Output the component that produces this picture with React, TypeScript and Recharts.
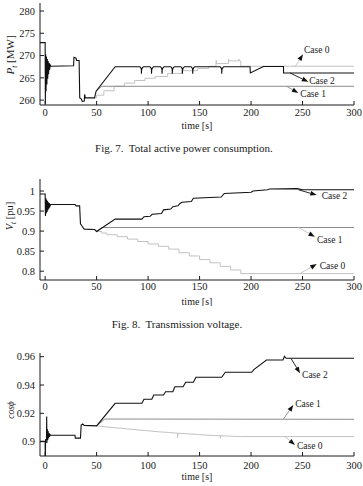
import React from "react";
import { LineChart, Line, XAxis, YAxis, ReferenceLine } from "recharts";

type Pt = [number, number];

const SERIF = "'Liberation Serif', 'DejaVu Serif', serif";
const INK = "#1a1a1a";
const CASE2 = "#111111";
const CASE1 = "#8c8c8c";
const CASE0 = "#c2c2c2";

const timeDomain: [number, number] = [-5, 300];
const timeTicks = [0, 50, 100, 150, 200, 250, 300];

// Fig. 7 - total active power P_t [MW]
const powerTicks = [260, 265, 270, 275, 280];
const powerCase2: Pt[] = [
  [-5, 272.9], [0, 272.9], [0.2, 259.2], [0.5, 270.3], [0.9, 262], [1.3, 269.8], [1.7, 263.5],
  [2.1, 269.2], [2.5, 264.8], [2.9, 268.8], [3.3, 265.8], [3.8, 268.4], [4.3, 266.8], [4.9, 267.9],
  [5.6, 267.6], [27.6, 267.7], [28, 269.6], [30, 269.4], [30.5, 268.9], [33, 268.9], [33.6, 260.5],
  [35, 260.3], [36, 259.7], [38, 259.8], [38.4, 261.3], [39, 260.5], [48, 260.5], [49.5, 262.0],
  [68, 267.5],
  [92, 267.5], [93, 267.2], [93.5, 266.8], [93.5, 265.9], [93.7, 266.8], [94.3, 267.2], [95.5, 267.5],
  [101.8, 267.5], [102.8, 267.2], [103.3, 266.8], [103.3, 265.9], [103.5, 266.8], [104.1, 267.2], [105.3, 267.5],
  [112, 267.5], [113, 267.2], [113.5, 266.8], [113.5, 265.9], [113.7, 266.8], [114.3, 267.2], [115.5, 267.5],
  [122, 267.5], [123, 267.2], [123.5, 266.8], [123.5, 265.9], [123.7, 266.8], [124.3, 267.2], [125.5, 267.5],
  [131.8, 267.5], [132.8, 267.2], [133.3, 266.8], [133.3, 265.9], [133.5, 266.8], [134.1, 267.2], [135.3, 267.5],
  [141.8, 267.5], [142.8, 267.2], [143.3, 266.8], [143.3, 265.9], [143.5, 266.8], [144.1, 267.2], [145.3, 267.5],
  [170, 267.5], [171, 267.2], [171.5, 266.8], [171.5, 265.9], [171.7, 266.8], [172.3, 267.2], [173.5, 267.5],
  [199, 267.5], [199.3, 266.1], [212, 267.55], [231.5, 267.55], [231.6, 266.1], [300, 266.1],
];
const powerCase1: Pt[] = [[49.5, 262.0], [55, 263.1], [300, 263.1]];
const powerCase0: Pt[] = [
  [48, 260.5], [50, 261.1], [57, 262.1], [67, 263.1], [77, 263.8], [87, 264.4], [97, 264.9],
  [107, 265.3], [119, 266.0], [133, 266.6], [148, 267.1], [159, 267.6], [166, 268.9], [166.4, 268.2],
  [178, 269.2], [178.4, 268.8], [188, 269.2], [188.4, 268.8], [190, 267.6], [300, 267.6],
];

// Fig. 8 - transmission voltage V_t [pu]
const voltageTicks = [0.8, 0.85, 0.9, 0.95, 1];
const voltageCase2: Pt[] = [
  [-5, 0.9925], [0, 0.9925], [0.3, 0.938], [0.7, 0.982], [1.1, 0.944], [1.5, 0.978], [1.9, 0.948],
  [2.3, 0.975], [2.7, 0.952], [3.1, 0.972], [3.5, 0.956], [4, 0.97], [4.6, 0.962], [5.3, 0.9665],
  [29, 0.9665], [30, 0.963], [33.5, 0.963], [34.3, 0.918], [36, 0.912], [37, 0.908], [38, 0.905],
  [48, 0.904], [50, 0.899], [68, 0.93], [94, 0.93], [96, 0.936], [102, 0.937], [104, 0.942],
  [113, 0.944], [115, 0.953], [122, 0.955], [124, 0.961], [129, 0.963], [131, 0.969], [133, 0.972],
  [142, 0.974], [144, 0.982], [171, 0.985], [174, 0.994], [200, 0.997], [202, 1.0], [216, 1.003],
  [218, 1.005], [245, 1.006], [250, 1.003], [300, 1.003],
];
const voltageCase1: Pt[] = [[50, 0.899], [55, 0.909], [300, 0.909]];
const voltageCase0: Pt[] = [
  [50, 0.899], [55, 0.895], [60, 0.891], [70, 0.886], [80, 0.88], [90, 0.874], [100, 0.868],
  [110, 0.862], [120, 0.855], [130, 0.846], [140, 0.838], [150, 0.829], [160, 0.821], [170, 0.812],
  [180, 0.803], [190, 0.794], [300, 0.794],
];

// power factor cos(phi)
const pfTicks = [0.9, 0.92, 0.94, 0.96];
const pfCase2: Pt[] = [
  [-5, 0.9002], [0, 0.9002], [0.1, 0.888], [0.5, 0.9015], [1.3, 0.9015], [1.5, 0.9177], [1.7, 0.899],
  [2.1, 0.909], [2.5, 0.901], [2.9, 0.9075], [3.3, 0.9025], [3.7, 0.906], [4.2, 0.9035], [4.8, 0.905],
  [5.5, 0.9045], [29, 0.9045], [29.3, 0.9025], [34.3, 0.9025], [35, 0.9118], [36.5, 0.9125],
  [38, 0.9115], [50, 0.9112], [68, 0.9271], [94, 0.9271], [96, 0.93], [103.6, 0.93], [105.5, 0.933],
  [115, 0.933], [117, 0.9353], [124, 0.9353], [126, 0.9388], [134, 0.9388], [136.5, 0.942],
  [144, 0.942], [146.5, 0.9455], [171.5, 0.9455], [175, 0.949], [200.5, 0.949], [203, 0.951],
  [215, 0.9577], [231, 0.9577], [232.5, 0.9603], [234, 0.9589], [300, 0.9589],
];
const pfCase1: Pt[] = [[50, 0.9112], [58, 0.916], [300, 0.9158]];
const pfCase0: Pt[] = [
  [50, 0.9112], [60, 0.9104], [70, 0.9097], [80, 0.909], [90, 0.9083], [100, 0.9077], [110, 0.907],
  [120, 0.9065], [128.5, 0.906], [128.7, 0.903], [129, 0.906], [140, 0.9055], [150, 0.905],
  [160, 0.9045], [170, 0.9042], [170.2, 0.9025], [170.5, 0.9042], [180, 0.9039], [190, 0.9036],
  [300, 0.9036],
];

// callouts: label, arrow tail and tip in data units
const powerCallouts = [
  { label: "Case 0", from: [242.7, 267.5], to: [250.5, 270.3], color: CASE0 },
  { label: "Case 2", from: [237.8, 266.1], to: [255.6, 264.1], color: CASE2 },
  { label: "Case 1", from: [234.6, 263.1], to: [245.9, 261.6], color: CASE1 },
];
const voltageCallouts = [
  { label: "Case 2", from: [246, 1.003], to: [263.8, 0.99], color: CASE2 },
  { label: "Case 1", from: [246, 0.909], to: [262, 0.886], color: CASE0 },
  { label: "Case 0", from: [247.5, 0.794], to: [263.8, 0.8177], color: CASE0 },
];
const pfCallouts = [
  { label: "Case 2", from: [238.7, 0.9589], to: [247.6, 0.9483], color: CASE2 },
  { label: "Case 1", from: [231.3, 0.9158], to: [241, 0.9259], color: CASE1 },
  { label: "Case 0", from: [233, 0.9036], to: [242.7, 0.8977], color: CASE0 },
];

const rows = (pts: Pt[]) => pts.map(([t, v]) => ({ t, v }));

function Arrow(props: any) {
  const { x1, y1, x2, y2, stroke, text, dx, dy } = props;
  if (![x1, y1, x2, y2].every((n) => typeof n === "number")) return null;
  const a = Math.atan2(y2 - y1, x2 - x1);
  const len = 6.5;
  const w = 2.4;
  const bx = x2 - len * Math.cos(a);
  const by = y2 - len * Math.sin(a);
  const head = `${x2},${y2} ${bx + w * Math.sin(a)},${by - w * Math.cos(a)} ${bx - w * Math.sin(a)},${by + w * Math.cos(a)}`;
  return (
    <g>
      <line x1={x1} y1={y1} x2={bx} y2={by} stroke={stroke} strokeWidth={0.9} />
      <polygon points={head} fill="#111" />
      <text
        x={x2 + dx}
        y={y2 + dy}
        fontFamily={SERIF}
        fontSize={9.5}
        fill={INK}
        dominantBaseline="central"
      >
        {text}
      </text>
    </g>
  );
}

interface PanelProps {
  top: number;
  height: number;
  marginTop: number;
  axisHeight: number;
  xTickMargin: number;
  labelOffset: number;
  yDomain: [number, number];
  yTicks: number[];
  case0: Pt[];
  case1: Pt[];
  case2: Pt[];
  case0Step: boolean;
  callouts: { label: string; from: number[]; to: number[]; color: string }[];
  textShift: [number, number][];
}

function Panel(p: PanelProps) {
  const tickStyle = { fill: INK, fontSize: 10.5, fontFamily: SERIF };
  return (
    <div style={{ position: "absolute", left: 0, top: p.top, fontFamily: SERIF }}>
      <LineChart
        width={363}
        height={p.height}
        margin={{ top: p.marginTop, right: 9, bottom: 0, left: 0 }}
        style={{ fontFamily: SERIF }}
      >
        <XAxis
          dataKey="t"
          type="number"
          domain={timeDomain}
          ticks={timeTicks}
          interval={0}
          allowDataOverflow
          height={p.axisHeight}
          tickSize={-4}
          tickMargin={p.xTickMargin}
          stroke={INK}
          tick={tickStyle}
          label={{
            value: "time [s]",
            position: "insideBottom",
            offset: p.labelOffset,
            fontFamily: SERIF,
            fontSize: 10,
            fill: INK,
          }}
        />
        <XAxis
          xAxisId="top"
          orientation="top"
          type="number"
          domain={timeDomain}
          ticks={timeTicks}
          interval={0}
          allowDataOverflow
          height={0}
          tickSize={-4}
          tick={false}
          stroke={INK}
        />
        <YAxis
          type="number"
          domain={p.yDomain}
          ticks={p.yTicks}
          interval={0}
          allowDataOverflow
          width={40}
          tickSize={-4}
          tickMargin={9}
          stroke={INK}
          tick={tickStyle}
        />
        <YAxis
          yAxisId="right"
          orientation="right"
          type="number"
          domain={p.yDomain}
          ticks={p.yTicks}
          interval={0}
          allowDataOverflow
          width={0}
          tickSize={-4}
          tick={false}
          stroke={INK}
        />
        <Line
          data={rows(p.case0)}
          dataKey="v"
          type={p.case0Step ? "stepAfter" : "linear"}
          stroke={CASE0}
          strokeWidth={1}
          dot={false}
          isAnimationActive={false}
        />
        <Line
          data={rows(p.case1)}
          dataKey="v"
          type="linear"
          stroke={CASE1}
          strokeWidth={1}
          dot={false}
          isAnimationActive={false}
        />
        <Line
          data={rows(p.case2)}
          dataKey="v"
          type="linear"
          stroke={CASE2}
          strokeWidth={1.1}
          dot={false}
          isAnimationActive={false}
        />
        {p.callouts.map((c, i) => (
          <ReferenceLine
            key={c.label}
            segment={[
              { x: c.from[0], y: c.from[1] },
              { x: c.to[0], y: c.to[1] },
            ]}
            stroke={c.color}
            ifOverflow="visible"
            shape={(s: any) => (
              <Arrow
                x1={s.x1}
                y1={s.y1}
                x2={s.x2}
                y2={s.y2}
                stroke={c.color}
                text={c.label}
                dx={p.textShift[i][0]}
                dy={p.textShift[i][1]}
              />
            )}
          />
        ))}
      </LineChart>
    </div>
  );
}

function Rotated({ x, y, size, children }: { x: number; y: number; size: number; children: React.ReactNode }) {
  return (
    <div
      style={{
        position: "absolute",
        left: x,
        top: y,
        transform: "translate(-50%, -50%) rotate(-90deg)",
        whiteSpace: "nowrap",
        fontFamily: SERIF,
        fontSize: size,
        color: INK,
        lineHeight: 1,
      }}
    >
      {children}
    </div>
  );
}

function Caption({ x, y, text }: { x: number; y: number; text: string }) {
  return (
    <div
      style={{
        position: "absolute",
        left: x,
        top: y,
        transform: "translate(-50%, -50%)",
        whiteSpace: "pre",
        fontFamily: SERIF,
        fontSize: 11,
        color: INK,
        lineHeight: 1,
      }}
    >
      {text}
    </div>
  );
}

export default function App() {
  return (
    <div
      style={{
        position: "absolute",
        left: 0,
        top: 0,
        width: 363,
        height: 486,
        background: "#fff",
        overflow: "hidden",
        fontFamily: SERIF,
      }}
    >
      <Panel
        top={0}
        height={132}
        marginTop={3}
        axisHeight={27}
        xTickMargin={8}
        labelOffset={3}
        yDomain={[258.9, 281.8]}
        yTicks={powerTicks}
        case0={powerCase0}
        case1={powerCase1}
        case2={powerCase2}
        case0Step
        callouts={powerCallouts}
        textShift={[[1, -4], [1, -1], [2, 1]]}
      />
      <Rotated x={12} y={55} size={11}>
        <i>P</i>
        <sub style={{ fontSize: "0.7em", fontStyle: "italic" }}>t</sub> [MW]
      </Rotated>
      <Caption x={184} y={148} text={"Fig. 7.  Total active power consumption."} />

      <Panel
        top={160}
        height={146}
        marginTop={19}
        axisHeight={26}
        xTickMargin={7}
        labelOffset={1.5}
        yDomain={[0.778, 1.03]}
        yTicks={voltageTicks}
        case0={voltageCase0}
        case1={voltageCase1}
        case2={voltageCase2}
        case0Step
        callouts={voltageCallouts}
        textShift={[[5, 1], [2, 3], [3, 2]]}
      />
      <Rotated x={11} y={216} size={10.5}>
        <i>V</i>
        <sub style={{ fontSize: "0.7em", fontStyle: "italic" }}>t</sub> [pu]
      </Rotated>
      <Caption x={177} y={324} text={"Fig. 8.  Transmission voltage."} />

      <Panel
        top={335}
        height={151}
        marginTop={18}
        axisHeight={30}
        xTickMargin={10}
        labelOffset={6}
        yDomain={[0.8899, 0.9626]}
        yTicks={pfTicks}
        case0={pfCase0}
        case1={pfCase1}
        case2={pfCase2}
        case0Step={false}
        callouts={pfCallouts}
        textShift={[[2, 2], [2, -1], [2, 1]]}
      />
      <Rotated x={12} y={410} size={9.5}>
        <i>cosϕ</i>
      </Rotated>
    </div>
  );
}
